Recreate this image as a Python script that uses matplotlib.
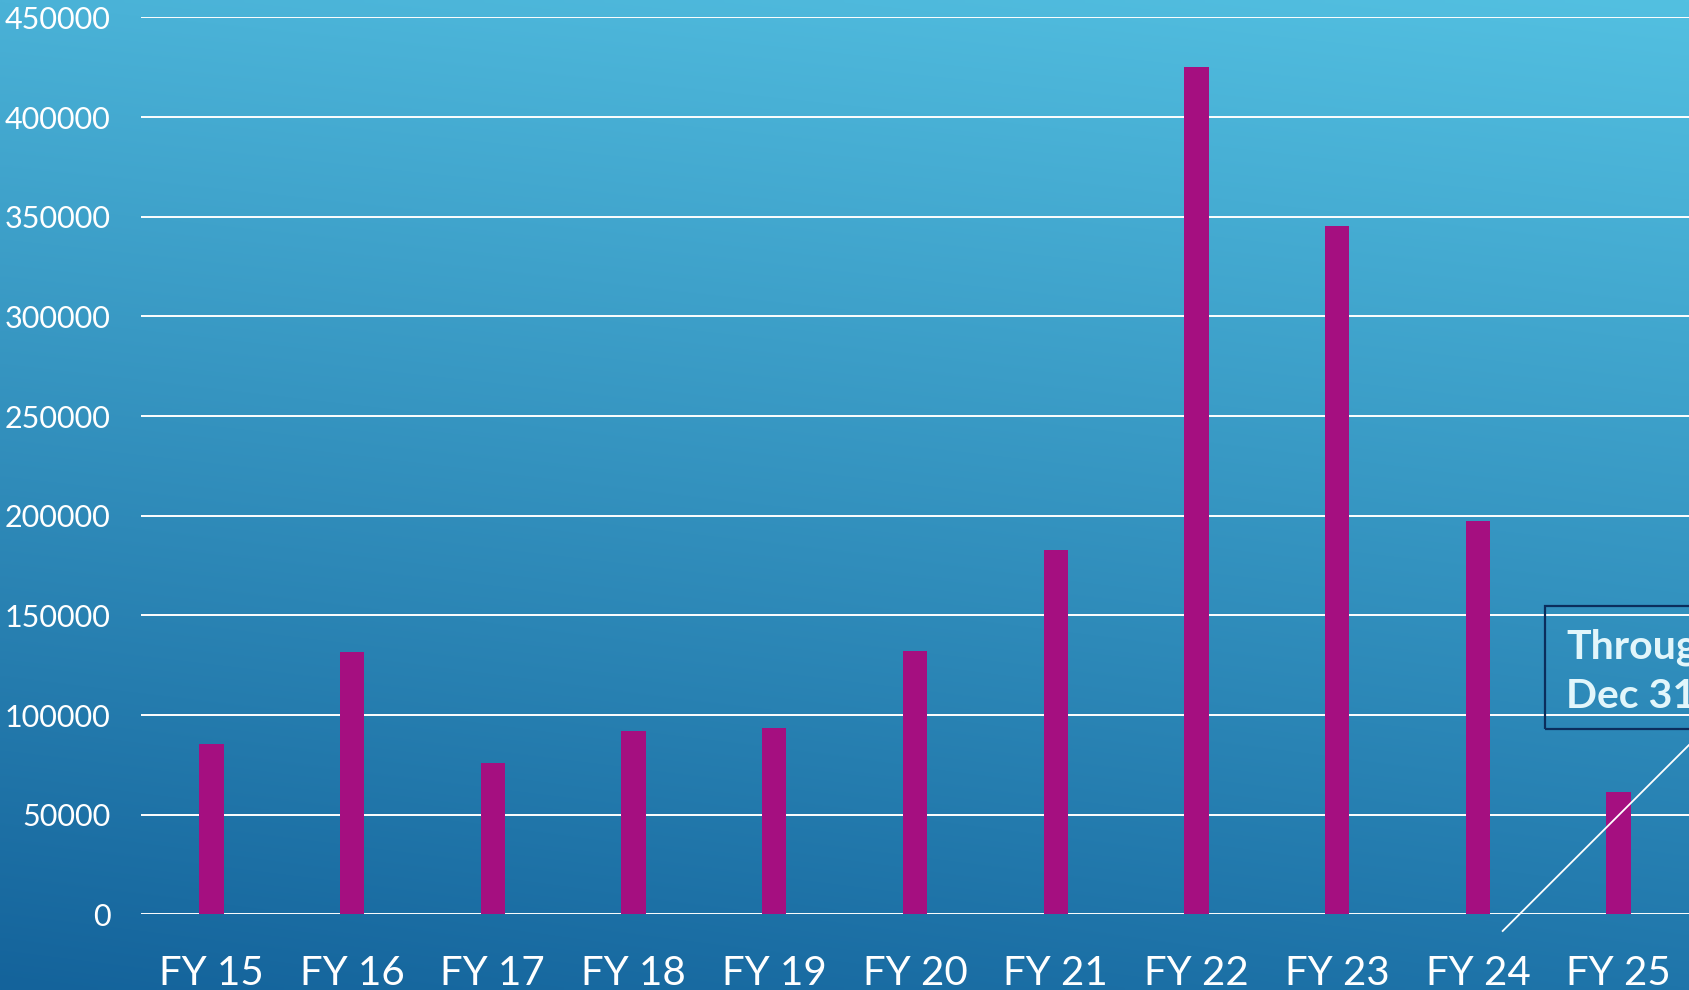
import numpy as np
import matplotlib
matplotlib.use("Agg")
import matplotlib.pyplot as plt
from matplotlib.patches import Rectangle
from matplotlib.lines import Line2D

# ---- data ----
categories = ["FY 15", "FY 16", "FY 17", "FY 18", "FY 19", "FY 20",
              "FY 21", "FY 22", "FY 23", "FY 24", "FY 25"]
values = [85300, 131800, 76100, 92000, 93600, 131900,
          183000, 425000, 345200, 197500, 61400]
yticks = [0, 50000, 100000, 150000, 200000, 250000, 300000, 350000, 400000, 450000]
note_lines = ["Through", "Dec 31"]

W, H = 1689, 990
fig = plt.figure(figsize=(W / 100, H / 100), dpi=100)

# ---- gradient background ----
bg = fig.add_axes([0, 0, 1, 1], zorder=-10)
tl = np.array([74, 178, 215]) / 255
tr = np.array([83, 192, 225]) / 255
bl = np.array([20, 99, 155]) / 255
br = np.array([31, 117, 170]) / 255
u = np.linspace(0, 1, 200)[None, :, None]
v = np.linspace(0, 1, 200)[:, None, None]
img = (1 - v) * ((1 - u) * tl + u * tr) + v * ((1 - u) * bl + u * br)
bg.imshow(img, aspect="auto", extent=[0, 1, 0, 1], interpolation="bilinear")
bg.set_axis_off()

# ---- main axes ----
left = 141 / W
bottom = (H - 914.3) / H
top = (H - 17.5) / H
ax = fig.add_axes([left, bottom, 1 - left, top - bottom])
ax.patch.set_alpha(0)

x = np.arange(len(categories))
ax.bar(x, values, width=0.173, color="#a50f80", zorder=3)
ax.set_xlim(-0.5, 10.5)
ax.set_ylim(0, 450000)
ax.set_yticks(yticks)
ax.set_yticklabels([str(t) for t in yticks])
ax.set_xticks(x)
ax.set_xticklabels(categories)
ax.yaxis.grid(True, color="white", linewidth=1.4, zorder=1)
ax.set_axisbelow(True)
for s in ax.spines.values():
    s.set_visible(False)
ax.tick_params(axis="both", length=0)
ax.tick_params(axis="y", pad=22, labelsize=22, labelcolor="white")
ax.tick_params(axis="x", pad=29, labelsize=29, labelcolor="white")
for lab in ax.get_yticklabels() + ax.get_xticklabels():
    lab.set_family(["Lato", "DejaVu Sans"])
    lab.set_weight("normal")

# ---- annotation box, text and leader line (figure pixel coords) ----
def fx(px):
    return px / W

def fy(py):
    return 1 - py / H

rect = Rectangle((fx(1545), fy(729)), fx(400), (729 - 605.7) / H,
                 transform=fig.transFigure, fill=False,
                 edgecolor="#0b2d5c", linewidth=1.6, zorder=5)
fig.patches.append(rect)
for i, line in enumerate(note_lines):
    fig.text(fx(1566), fy(658 + 50 * i), line, ha="left", va="baseline",
             fontsize=29.5, fontweight="bold", color="#e2f6fb",
             family=["Lato", "DejaVu Sans"], zorder=6)
fig.lines.append(Line2D([fx(1502.7), fx(1705)], [fy(931), fy(729)],
                        transform=fig.transFigure, color="white",
                        linewidth=1.3, zorder=6))

fig.savefig("out.png", dpi=100)
